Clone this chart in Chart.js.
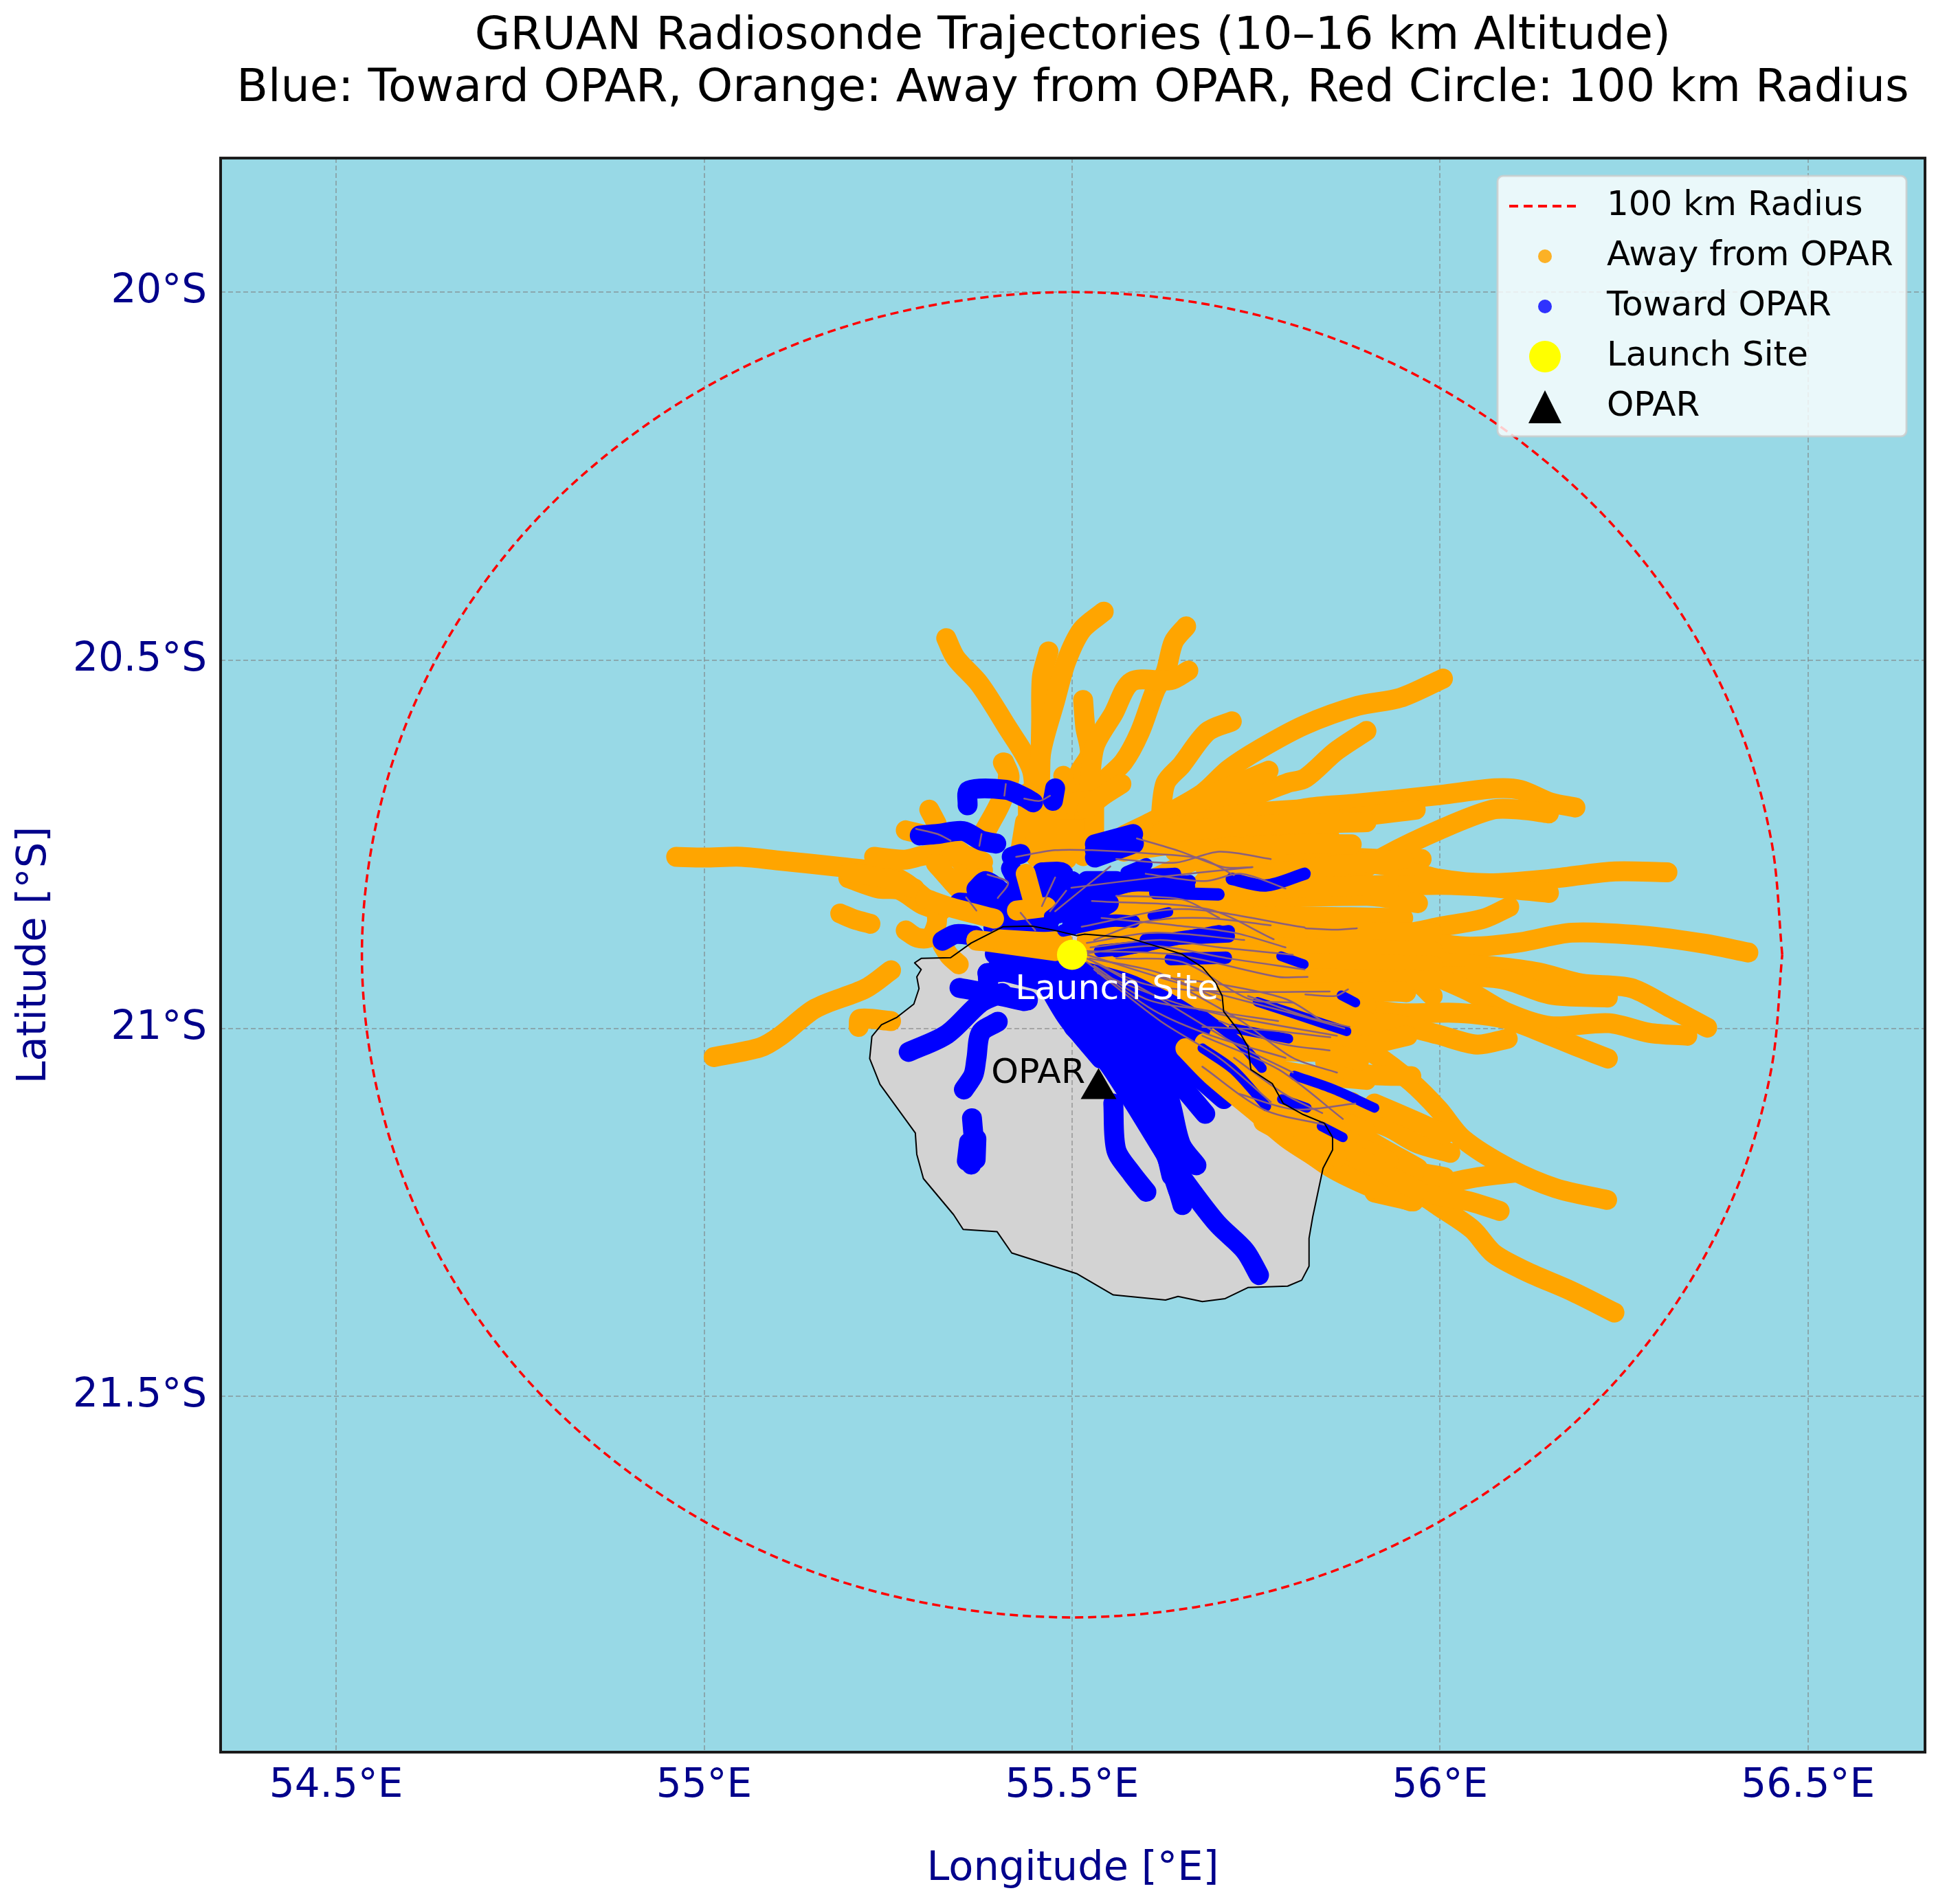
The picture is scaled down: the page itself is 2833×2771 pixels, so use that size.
<!DOCTYPE html>
<html><head><meta charset="utf-8">
<style>html,body{margin:0;padding:0;background:#fff}canvas{display:block}</style>
<script src="https://cdn.jsdelivr.net/npm/chart.js@4"></script>
</head><body><canvas id="c" width="2833" height="2771"></canvas>
<script>
const titleLines=["GRUAN Radiosonde Trajectories (10–16 km Altitude)","Blue: Toward OPAR, Orange: Away from OPAR, Red Circle: 100 km Radius"];
const lonTicks=[54.5,55,55.5,56,56.5];
const lonLabels=["54.5°E","55°E","55.5°E","56°E","56.5°E"];
const latTicks=[-20,-20.5,-21,-21.5];
const latLabels=["20°S","20.5°S","21°S","21.5°S"];
const legendLabels=["100 km Radius","Away from OPAR","Toward OPAR","Launch Site","OPAR"];
const launchSite=[55.5,-20.9];
const oparSite=[55.536,-21.082];
const launchText=[55.561,-20.948];
const oparText=[55.454,-21.062];
const circleLon=[56.465,56.450,56.407,56.336,56.239,56.120,55.983,55.830,55.668,55.5,55.332,55.170,55.017,54.880,54.761,54.664,54.593,54.550,54.535,54.550,54.593,54.664,54.761,54.880,55.017,55.170,55.332,55.5,55.668,55.830,55.983,56.120,56.239,56.336,56.407,56.450,56.465];
const circleLat=[-20.9,-20.744,-20.592,-20.450,-20.321,-20.211,-20.121,-20.054,-20.014,-20.0,-20.014,-20.054,-20.121,-20.211,-20.321,-20.450,-20.592,-20.744,-20.9,-21.056,-21.208,-21.350,-21.479,-21.589,-21.679,-21.746,-21.786,-21.8,-21.786,-21.746,-21.679,-21.589,-21.479,-21.350,-21.208,-21.056,-20.9];
const coast=[[55.286,-20.911],[55.295,-20.905],[55.335,-20.904],[55.363,-20.884],[55.406,-20.862],[55.445,-20.861],[55.477,-20.867],[55.506,-20.874],[55.517,-20.872],[55.577,-20.877],[55.613,-20.888],[55.649,-20.899],[55.677,-20.917],[55.695,-20.938],[55.704,-20.956],[55.706,-20.977],[55.727,-21.004],[55.739,-21.025],[55.743,-21.056],[55.772,-21.075],[55.787,-21.102],[55.814,-21.117],[55.843,-21.129],[55.854,-21.148],[55.854,-21.165],[55.841,-21.190],[55.827,-21.256],[55.822,-21.285],[55.822,-21.323],[55.812,-21.342],[55.793,-21.350],[55.739,-21.352],[55.708,-21.367],[55.677,-21.371],[55.644,-21.364],[55.627,-21.369],[55.556,-21.362],[55.506,-21.333],[55.418,-21.305],[55.398,-21.276],[55.352,-21.273],[55.339,-21.253],[55.298,-21.204],[55.289,-21.171],[55.287,-21.142],[55.239,-21.076],[55.225,-21.041],[55.228,-21.011],[55.241,-20.995],[55.262,-20.985],[55.285,-20.967],[55.292,-20.946],[55.289,-20.930],[55.295,-20.920],[55.286,-20.911]];
// Orange tracks below the blue ones
const awayLower=[
[[54.962,-20.767],[55.000,-20.768],[55.051,-20.767],[55.101,-20.772],[55.187,-20.781],[55.240,-20.788],[55.272,-20.801],[55.301,-20.824]],
[[55.196,-20.796],[55.237,-20.810],[55.265,-20.812],[55.297,-20.832],[55.322,-20.840]],
[[55.197,-20.788],[55.250,-20.797],[55.286,-20.810]],
[[55.231,-20.767],[55.272,-20.771],[55.301,-20.765],[55.333,-20.767],[55.365,-20.767],[55.379,-20.774]],
[[55.315,-20.776],[55.337,-20.801],[55.354,-20.819]],
[[55.340,-20.756],[55.361,-20.790],[55.379,-20.785]],
[[55.185,-20.844],[55.204,-20.852],[55.226,-20.858]],
[[55.274,-20.867],[55.290,-20.877],[55.307,-20.876],[55.316,-20.858],[55.316,-20.840]],
[[55.324,-20.887],[55.333,-20.901],[55.346,-20.913]],
[[55.013,-21.039],[55.076,-21.026],[55.104,-21.010],[55.151,-20.973],[55.219,-20.946],[55.254,-20.921]],
[[55.210,-20.998],[55.212,-20.987],[55.254,-20.990]],
[[55.306,-20.703],[55.316,-20.722]],
[[55.274,-20.731],[55.322,-20.744],[55.365,-20.772]],
[[55.408,-20.639],[55.415,-20.660],[55.400,-20.697],[55.379,-20.735]],
[[55.329,-20.470],[55.342,-20.497],[55.374,-20.532],[55.410,-20.588],[55.445,-20.648],[55.449,-20.702]],
[[55.468,-20.488],[55.459,-20.523],[55.458,-20.584],[55.456,-20.691]],
[[55.543,-20.434],[55.513,-20.459],[55.492,-20.502],[55.477,-20.555],[55.459,-20.620],[55.449,-20.700]],
[[55.515,-20.554],[55.518,-20.591],[55.524,-20.627],[55.509,-20.655],[55.502,-20.709],[55.492,-20.763]],
[[55.655,-20.454],[55.638,-20.475],[55.627,-20.516],[55.613,-20.541],[55.592,-20.598],[55.570,-20.638],[55.538,-20.670],[55.513,-20.716],[55.511,-20.763]],
[[55.658,-20.514],[55.634,-20.527],[55.581,-20.529],[55.556,-20.573],[55.531,-20.616],[55.524,-20.666],[55.517,-20.727]],
[[55.406,-20.639],[55.413,-20.654],[55.406,-20.688],[55.385,-20.729]],
[[55.488,-20.657],[55.493,-20.681]],
[[55.436,-20.720],[55.429,-20.763]],
[[55.456,-20.702],[55.451,-20.767]],
[[55.477,-20.702],[55.474,-20.777]],
[[55.495,-20.702],[55.493,-20.770]],
[[55.517,-20.709],[55.515,-20.766]],
[[55.440,-20.700],[55.530,-20.690]],
[[55.440,-20.730],[55.520,-20.730]],
[[55.440,-20.680],[55.440,-20.740]],
[[55.465,-20.680],[55.460,-20.750]],
[[55.530,-20.690],[55.530,-20.740]],
[[55.450,-20.745],[55.530,-20.745]],
[[55.567,-20.668],[55.542,-20.684],[55.520,-20.702]],
[[55.717,-20.583],[55.684,-20.597],[55.649,-20.642],[55.627,-20.667],[55.620,-20.717]],
[[56.004,-20.525],[55.946,-20.551],[55.888,-20.562],[55.816,-20.588],[55.756,-20.620],[55.713,-20.648],[55.677,-20.681],[55.613,-20.717],[55.570,-20.738]],
[[55.900,-20.596],[55.858,-20.624],[55.817,-20.660],[55.792,-20.667],[55.738,-20.688],[55.684,-20.709],[55.613,-20.738]],
[[55.767,-20.650],[55.731,-20.665],[55.692,-20.681],[55.659,-20.702]],
[[56.184,-20.700],[56.150,-20.693],[56.109,-20.676],[56.075,-20.674],[56.000,-20.683],[55.883,-20.695],[55.817,-20.701],[55.700,-20.730],[55.620,-20.750]],
[[56.148,-20.708],[56.109,-20.703],[56.071,-20.703],[56.000,-20.730],[55.925,-20.766],[55.871,-20.799],[55.817,-20.820]],
[[55.967,-20.703],[55.871,-20.716],[55.817,-20.733],[55.700,-20.750]],
[[55.975,-20.770],[55.921,-20.770],[55.830,-20.766],[55.700,-20.770]],
[[56.309,-20.788],[56.234,-20.787],[56.150,-20.797],[56.067,-20.803],[56.000,-20.797],[55.921,-20.778],[55.817,-20.770],[55.680,-20.780]],
[[56.148,-20.816],[56.067,-20.808],[56.000,-20.805],[55.921,-20.807],[55.817,-20.803],[55.680,-20.800]],
[[56.094,-20.835],[56.059,-20.851],[56.000,-20.862],[55.958,-20.870],[55.858,-20.874],[55.700,-20.860]],
[[56.419,-20.897],[56.359,-20.885],[56.276,-20.874],[56.179,-20.870],[56.109,-20.883],[56.042,-20.889],[55.996,-20.885],[55.900,-20.874],[55.700,-20.870]],
[[56.363,-20.999],[56.309,-20.970],[56.259,-20.945],[56.192,-20.939],[56.134,-20.924],[56.075,-20.916],[55.996,-20.910],[55.858,-20.895],[55.700,-20.880]],
[[56.228,-20.958],[56.150,-20.954],[56.084,-20.933],[55.996,-20.929],[55.900,-20.924],[55.700,-20.910]],
[[56.336,-21.010],[56.284,-21.006],[56.230,-20.993],[56.150,-20.997],[56.092,-20.979],[56.042,-20.951],[56.000,-20.932]],
[[56.228,-21.041],[56.192,-21.027],[56.150,-21.010],[56.088,-20.987],[56.025,-20.979],[55.942,-20.979],[55.858,-20.966],[55.700,-20.940]],
[[56.092,-21.014],[56.050,-21.022],[55.996,-21.008],[55.942,-20.995],[55.858,-20.987],[55.700,-20.960]],
[[55.990,-20.956],[55.967,-20.937],[55.900,-20.930]],
[[55.954,-20.951],[55.900,-20.945],[55.750,-20.930]],
[[55.950,-21.010],[55.912,-21.018],[55.858,-21.008],[55.720,-20.980]],
[[55.520,-20.850],[55.700,-20.800],[55.850,-20.780],[55.950,-20.770]],
[[55.500,-20.850],[55.700,-20.760],[55.850,-20.740]],
[[55.570,-20.760],[55.700,-20.740],[55.800,-20.720]],
[[55.590,-20.740],[55.720,-20.710],[55.850,-20.700]],
[[55.620,-20.735],[55.730,-20.725],[55.900,-20.720]],
[[55.640,-20.760],[55.800,-20.750],[55.880,-20.750]],
[[55.520,-20.870],[55.700,-20.830],[55.900,-20.820],[55.970,-20.830]],
[[55.540,-20.840],[55.700,-20.815],[55.930,-20.805]],
[[55.520,-20.880],[55.720,-20.850],[55.950,-20.850]],
[[55.520,-20.890],[55.750,-20.870],[55.990,-20.870]],
[[55.520,-20.900],[55.750,-20.890],[55.990,-20.895]],
[[55.520,-20.910],[55.750,-20.910],[55.990,-20.915]],
[[55.520,-20.920],[55.750,-20.930],[55.990,-20.935]],
[[55.530,-20.930],[55.750,-20.950],[55.950,-20.950]],
[[55.550,-20.940],[55.750,-20.970],[55.900,-20.970]],
[[55.580,-20.960],[55.750,-20.990],[55.900,-20.990]],
[[55.620,-20.980],[55.750,-21.010],[55.880,-21.010]],
[[55.650,-21.000],[55.780,-21.030],[55.900,-21.030]],
[[55.680,-21.030],[55.800,-21.060],[55.900,-21.070]],
[[55.720,-21.070],[55.820,-21.110],[55.900,-21.130]],
[[55.700,-21.040],[55.800,-21.090],[55.880,-21.100]],
[[56.237,-21.386],[56.177,-21.356],[56.119,-21.331],[56.073,-21.306],[56.044,-21.273],[56.002,-21.244],[55.969,-21.223],[55.886,-21.190],[55.802,-21.144]],
[[56.227,-21.233],[56.157,-21.217],[56.094,-21.190],[56.031,-21.150],[55.998,-21.110],[55.961,-21.073],[55.911,-21.035],[55.865,-21.010]],
[[56.081,-21.248],[56.040,-21.235],[55.998,-21.227],[55.948,-21.217],[55.902,-21.206],[55.844,-21.173],[55.760,-21.127]],
[[56.102,-21.196],[56.052,-21.202],[56.011,-21.210]],
[[55.964,-21.235],[55.911,-21.223]],
[[56.014,-21.169],[55.969,-21.156],[55.931,-21.135],[55.886,-21.119]],
[[56.006,-21.144],[55.969,-21.127],[55.911,-21.102]],
[[55.890,-21.139],[55.915,-21.169],[55.948,-21.190],[56.006,-21.202]],
[[55.961,-21.065],[55.898,-21.062],[55.844,-21.046]],
[[55.890,-21.044],[55.840,-21.030]],
[[55.956,-21.010],[55.911,-21.021]],
[[55.880,-21.120],[55.830,-21.090]],
[[55.740,-21.030],[55.830,-21.100],[55.900,-21.150],[55.970,-21.190]],
[[55.900,-21.140],[55.850,-21.120],[55.800,-21.100]],
[[55.930,-21.180],[55.870,-21.150],[55.820,-21.120]],
[[55.780,-21.060],[55.850,-21.090],[55.900,-21.110]]
];
// Blue tracks
const towardMain=[
[[55.754,-21.335],[55.735,-21.302],[55.698,-21.266],[55.665,-21.224],[55.627,-21.171],[55.606,-21.132],[55.573,-21.083],[55.544,-21.041],[55.502,-20.998]],
[[55.650,-21.240],[55.640,-21.204],[55.631,-21.158],[55.623,-21.106],[55.606,-21.057],[55.564,-21.008]],
[[55.644,-21.220],[55.627,-21.171],[55.619,-21.158],[55.589,-21.109],[55.560,-21.063]],
[[55.669,-21.186],[55.648,-21.158],[55.635,-21.106],[55.619,-21.050]],
[[55.681,-21.116],[55.644,-21.073],[55.610,-21.041],[55.577,-21.008]],
[[55.601,-21.222],[55.581,-21.197],[55.560,-21.165],[55.556,-21.102]],
[[55.706,-21.096],[55.669,-21.063],[55.627,-21.021],[55.577,-20.988]],
[[55.470,-20.930],[55.520,-21.000],[55.560,-21.060]],
[[55.490,-20.925],[55.540,-21.000],[55.580,-21.060]],
[[55.510,-20.925],[55.560,-21.000],[55.600,-21.070]],
[[55.530,-20.930],[55.580,-21.000],[55.620,-21.070]],
[[55.550,-20.935],[55.600,-21.000],[55.630,-21.070]],
[[55.570,-20.940],[55.620,-21.000],[55.650,-21.060]],
[[55.590,-20.950],[55.640,-21.000],[55.670,-21.060]],
[[55.610,-20.960],[55.660,-21.000],[55.690,-21.060]],
[[55.590,-21.070],[55.620,-21.140],[55.635,-21.200]],
[[55.600,-21.080],[55.630,-21.130]],
[[55.420,-20.915],[55.520,-20.925],[55.620,-20.960],[55.700,-21.010]],
[[55.400,-20.905],[55.500,-20.915]],
[[55.460,-20.929],[55.493,-20.985],[55.539,-21.041]],
[[55.397,-20.920],[55.606,-20.972]],
[[55.443,-20.913],[55.560,-20.950],[55.650,-20.990]],
[[55.480,-20.915],[55.590,-20.945],[55.680,-21.010]],
[[55.278,-21.032],[55.330,-21.008],[55.376,-20.965],[55.405,-20.952]],
[[55.347,-20.945],[55.385,-20.952],[55.435,-20.963]],
[[55.385,-20.925],[55.440,-20.920]],
[[55.385,-20.925],[55.390,-20.950],[55.440,-20.962]],
[[55.399,-20.991],[55.376,-21.006],[55.370,-21.041],[55.366,-21.063],[55.353,-21.083]],
[[55.364,-21.122],[55.366,-21.145]],
[[55.360,-21.155],[55.357,-21.180]],
[[55.370,-21.150],[55.369,-21.178]],
[[55.365,-21.165],[55.363,-21.185]],
[[55.358,-20.697],[55.360,-20.677],[55.410,-20.676],[55.435,-20.686],[55.447,-20.693]],
[[55.477,-20.674],[55.474,-20.691]],
[[55.293,-20.738],[55.317,-20.736],[55.352,-20.732],[55.377,-20.745],[55.397,-20.749]],
[[55.418,-20.767],[55.430,-20.763]],
[[55.370,-20.811],[55.383,-20.800],[55.405,-20.815]],
[[55.347,-20.829],[55.417,-20.834]],
[[55.375,-20.815],[55.420,-20.825]],
[[55.350,-20.830],[55.430,-20.845]],
[[55.417,-20.783],[55.427,-20.802]],
[[55.324,-20.881],[55.342,-20.872],[55.367,-20.874]],
[[55.393,-20.863],[55.431,-20.867],[55.470,-20.868]],
[[55.395,-20.899],[55.435,-20.913],[55.506,-20.927]],
[[55.459,-20.788],[55.488,-20.790],[55.477,-20.834],[55.467,-20.859]],
[[55.460,-20.790],[55.460,-20.850]],
[[55.475,-20.790],[55.480,-20.830]],
[[55.490,-20.795],[55.485,-20.840]],
[[55.445,-20.800],[55.450,-20.850]],
[[55.440,-20.810],[55.500,-20.830]],
[[55.430,-20.830],[55.520,-20.840]],
[[55.460,-20.850],[55.530,-20.830]],
[[55.500,-20.800],[55.470,-20.850]],
[[55.500,-20.860],[55.550,-20.830]],
[[55.520,-20.800],[55.560,-20.800]],
[[55.531,-20.750],[55.583,-20.736]],
[[55.531,-20.768],[55.584,-20.749]],
[[55.531,-20.758],[55.575,-20.745]]
];
// Orange tracks above the main blue ones
const awayUpper=[
[[55.301,-20.824],[55.333,-20.835],[55.394,-20.851]],
[[55.370,-20.881],[55.430,-20.884],[55.487,-20.881]],
[[55.370,-20.880],[55.427,-20.888],[55.477,-20.895]],
[[55.399,-20.879],[55.484,-20.884]],
[[55.437,-20.790],[55.448,-20.830]],
[[55.425,-20.840],[55.465,-20.835]],
[[55.654,-21.027],[55.689,-21.063],[55.748,-21.112],[55.794,-21.151],[55.856,-21.190]],
[[55.660,-21.030],[55.760,-21.120],[55.845,-21.185],[55.900,-21.213],[55.960,-21.235]],
[[55.700,-21.010],[55.790,-21.100],[55.870,-21.160],[55.930,-21.200],[55.970,-21.220]],
[[55.680,-21.020],[55.775,-21.110],[55.860,-21.175]]
];
// Wider blue streaks near the launch site
const towardStreaks=[
[[55.470,-20.848],[55.527,-20.809],[55.613,-20.793],[55.645,-20.802]],
[[55.500,-20.840],[55.560,-20.810],[55.660,-20.800]],
[[55.490,-20.830],[55.580,-20.795],[55.640,-20.790]],
[[55.530,-20.820],[55.600,-20.800]],
[[55.574,-20.788],[55.601,-20.777]],
[[55.613,-20.816],[55.699,-20.818]],
[[55.560,-20.805],[55.659,-20.807]],
[[55.717,-20.797],[55.763,-20.806],[55.816,-20.790]],
[[55.488,-20.867],[55.552,-20.854],[55.584,-20.855]],
[[55.538,-20.895],[55.599,-20.888],[55.631,-20.879],[55.713,-20.868]],
[[55.560,-20.895],[55.660,-20.875],[55.700,-20.868]],
[[55.600,-20.880],[55.713,-20.875]],
[[55.634,-20.906],[55.709,-20.904]]
];
// Narrow blue patches further out
const towardPatches=[
[[55.609,-20.847],[55.631,-20.842]],
[[55.784,-20.902],[55.815,-20.913]],
[[55.752,-20.964],[55.798,-20.979],[55.873,-21.004]],
[[55.719,-21.000],[55.794,-21.014]],
[[55.677,-20.981],[55.727,-21.019],[55.758,-21.054]],
[[55.677,-21.027],[55.719,-21.056],[55.764,-21.106]],
[[55.802,-21.064],[55.856,-21.083],[55.911,-21.108]],
[[55.785,-21.096],[55.819,-21.108]],
[[55.839,-21.133],[55.868,-21.148]],
[[55.866,-20.955],[55.885,-20.965]]
];
const thinTracks=[
[[55.424,-20.767],[55.477,-20.758],[55.527,-20.758],[55.613,-20.763],[55.677,-20.770],[55.720,-20.792]],
[[55.588,-20.742],[55.645,-20.759],[55.706,-20.781],[55.745,-20.781]],
[[55.520,-20.898],[55.613,-20.888],[55.713,-20.905],[55.816,-20.920]],
[[55.513,-20.862],[55.649,-20.838],[55.816,-20.863]],
[[55.477,-20.841],[55.552,-20.780]],
[[55.499,-20.809],[55.613,-20.795],[55.745,-20.781]],
[[55.527,-20.827],[55.684,-20.838],[55.774,-20.879]],
[[55.520,-20.884],[55.613,-20.870],[55.734,-20.880]],
[[55.524,-20.905],[55.613,-20.923],[55.702,-20.962]],
[[55.677,-20.998],[55.760,-21.002],[55.851,-21.012]],
[[55.677,-21.010],[55.781,-21.056],[55.868,-21.123]],
[[55.727,-21.089],[55.802,-21.110],[55.885,-21.102]],
[[55.677,-21.052],[55.760,-21.110],[55.843,-21.131]],
[[55.739,-20.956],[55.822,-20.985],[55.877,-20.998]],
[[55.520,-20.900],[55.650,-20.940],[55.800,-20.980],[55.870,-21.000]],
[[55.530,-20.910],[55.620,-20.960],[55.720,-21.020],[55.800,-21.060]],
[[55.520,-20.905],[55.600,-20.940],[55.700,-20.950],[55.850,-20.950]],
[[55.530,-20.920],[55.620,-20.990],[55.700,-21.040],[55.770,-21.100]],
[[55.520,-20.895],[55.640,-20.900],[55.780,-20.930],[55.820,-20.930]],
[[55.817,-20.864],[55.858,-20.866],[55.887,-20.864]],
[[55.817,-20.954],[55.858,-20.956],[55.875,-20.947]],
[[55.385,-20.791],[55.413,-20.802],[55.399,-20.823]],
[[55.356,-20.822],[55.370,-20.840]],
[[55.377,-20.736],[55.374,-20.752]],
[[55.410,-20.668],[55.408,-20.684]],
[[55.435,-20.688],[55.456,-20.691],[55.470,-20.684]],
[[55.288,-20.729],[55.317,-20.736],[55.335,-20.745]],
[[55.477,-20.795],[55.459,-20.834]],
[[55.470,-20.841],[55.492,-20.813]],
[[55.430,-20.843],[55.450,-20.867]],
[[55.560,-20.905],[55.650,-20.910],[55.740,-20.960],[55.800,-20.965]],
[[55.540,-20.850],[55.640,-20.860],[55.720,-20.870],[55.790,-20.890]],
[[55.560,-20.820],[55.650,-20.825],[55.700,-20.850]],
[[55.530,-20.880],[55.600,-20.855],[55.680,-20.850],[55.770,-20.860]],
[[55.525,-20.890],[55.620,-20.880],[55.700,-20.890],[55.800,-20.900]],
[[55.530,-20.915],[55.600,-20.960],[55.680,-20.975],[55.780,-20.990]],
[[55.535,-20.925],[55.640,-20.965],[55.720,-20.985],[55.860,-21.010]],
[[55.520,-20.910],[55.610,-20.975],[55.690,-21.010],[55.790,-21.040]],
[[55.600,-20.790],[55.680,-20.800],[55.730,-20.790],[55.790,-20.810]],
[[55.560,-20.770],[55.640,-20.775],[55.700,-20.760],[55.770,-20.770]],
[[55.700,-20.990],[55.780,-21.020],[55.850,-21.030]],
[[55.720,-21.040],[55.790,-21.090],[55.840,-21.115]],
[[55.660,-20.950],[55.730,-20.990],[55.800,-21.040],[55.860,-21.060]],
[[55.620,-20.930],[55.700,-20.940],[55.790,-20.960],[55.840,-20.990]]
];
const ORANGE="#FFA500",BLUE="#0000FF",THIN="#8A5F7E",WATER="#98D9E6",LAND="#D3D3D3",NAVY="#00008B";
const FONT="'DejaVu Sans'";
function handle(draw,w,h){const c=document.createElement('canvas');c.width=w;c.height=h;draw(c.getContext('2d'),w,h);return c;}
const handles=[
 handle((g,w,h)=>{g.strokeStyle="#FF0000";g.lineWidth=4;g.setLineDash([13,8]);g.beginPath();g.moveTo(0,h/2);g.lineTo(w,h/2);g.stroke();},104,6),
 handle((g,w,h)=>{g.fillStyle="rgba(255,165,0,.85)";g.beginPath();g.arc(w/2,h/2,10,0,7);g.fill();},24,24),
 handle((g,w,h)=>{g.fillStyle="rgba(0,0,255,.8)";g.beginPath();g.arc(w/2,h/2,10,0,7);g.fill();},24,24),
 handle((g,w,h)=>{g.fillStyle="#FFFF00";g.beginPath();g.arc(w/2,h/2,23,0,7);g.fill();},48,48),
 handle((g,w,h)=>{g.fillStyle="#000";g.beginPath();g.moveTo(w/2,0);g.lineTo(w,h);g.lineTo(0,h);g.closePath();g.fill();},48,48)
];
const toXY=t=>t.map(p=>({x:p[0],y:p[1]}));
const line=(t,color,w,extra)=>Object.assign({type:'scatter',showLine:true,data:toXY(t),borderColor:color,borderWidth:w,backgroundColor:color,pointRadius:0,pointHoverRadius:0,borderCapStyle:'round',borderJoinStyle:'round',tension:0.3,fill:false},extra||{});
const painted=[];
painted.push(line(coast,LAND,0,{tension:0,fill:'shape',backgroundColor:LAND,borderColor:LAND,borderWidth:1}));
awayLower.forEach(t=>painted.push(line(t,ORANGE,29)));
towardMain.forEach(t=>painted.push(line(t,BLUE,29)));
awayUpper.forEach(t=>painted.push(line(t,ORANGE,29)));
towardStreaks.forEach(t=>painted.push(line(t,BLUE,18)));
towardPatches.forEach(t=>painted.push(line(t,BLUE,14)));
thinTracks.forEach(t=>painted.push(line(t,THIN,2.5)));
painted.push(line(circleLon.map((v,i)=>[v,circleLat[i]]),"#FF0000",3.5,{tension:0.335,borderDash:[12,7],borderCapStyle:'butt'}));
painted.push(line(coast,"#000000",2,{tension:0}));
painted.push({type:'scatter',data:[{x:launchSite[0],y:launchSite[1]}],pointRadius:22,pointHoverRadius:22,backgroundColor:"#FFFF00",borderColor:"#FFFF00",pointBorderWidth:0});
painted.push({type:'scatter',data:[{x:oparSite[0],y:oparSite[1]}],pointStyle:'triangle',pointRadius:30,pointHoverRadius:30,backgroundColor:"#000",borderColor:"#000",pointBorderWidth:0});
painted.forEach((d,i)=>{d.order=painted.length-i;});

const mapPlugin={
 id:'mapLayers',
 beforeLayout(chart){
  const L=chart.legend;
  L._layers=()=>[{z:50,draw(){
   const g=chart.ctx;
   g.save();g.beginPath();g.roundRect(2179,256,595,379,8);g.fillStyle="rgba(255,255,255,.8)";g.fill();g.lineWidth=3;g.strokeStyle="rgba(204,204,204,.8)";g.stroke();g.restore();
   L.left=2160;L.top=252;L.right=2790;L.bottom=700;
   L.draw();
  }}];
 },
 beforeDraw(chart){
  const g=chart.ctx,a=chart.chartArea;
  g.save();g.fillStyle="#fff";g.fillRect(0,0,chart.width,chart.height);g.fillStyle=WATER;g.fillRect(a.left,a.top,a.right-a.left,a.bottom-a.top);g.restore();
  [chart.scales.x,chart.scales.y].forEach(s=>{if(!s._gridReal){s._gridReal=s.drawGrid;s.drawGrid=function(){};}});
 },
 afterDatasetDraw(chart,args){
  if(args.index===0){[chart.scales.x,chart.scales.y].forEach(s=>s._gridReal.call(s,chart.chartArea));}
 },
 afterDatasetsDraw(chart){
  const g=chart.ctx,a=chart.chartArea,x=chart.scales.x,y=chart.scales.y;
  g.save();g.textAlign='center';g.textBaseline='middle';
  g.font="50.5px "+FONT;g.fillStyle="#fff";g.fillText("Launch Site",x.getPixelForValue(launchText[0]),y.getPixelForValue(launchText[1]));
  g.font="50.5px "+FONT;g.fillStyle="#000";g.fillText("OPAR",x.getPixelForValue(oparText[0]),y.getPixelForValue(oparText[1]));
  g.strokeStyle="#1a1a1a";g.lineWidth=4;g.strokeRect(a.left,a.top,a.right-a.left,a.bottom-a.top);
  g.restore();
 }
};
new Chart(document.getElementById('c'),{
 type:'scatter',
 data:{datasets:painted},
 plugins:[mapPlugin],
 options:{
  responsive:false,animation:false,devicePixelRatio:1,
  events:[],
  layout:{padding:{left:0,right:32,top:0,bottom:0}},
  plugins:{
   tooltip:{enabled:false},
   title:{display:true,fullSize:false,text:titleLines,color:"#000",font:{family:FONT,size:66.7,weight:'normal',lineHeight:1.14},padding:{top:16,bottom:62}},
   legend:{display:true,position:'chartArea',align:'start',labels:{
     font:{family:FONT,size:50},color:"#000",usePointStyle:true,pointStyleWidth:130,padding:23,
     generateLabels:()=>legendLabels.map((t,i)=>({text:t,pointStyle:handles[i],fillStyle:"#000",strokeStyle:"#000",lineWidth:0,hidden:false}))
   }}
  },
  scales:{
   x:{type:'linear',min:54.343,max:56.659,
    afterFit:s=>{s.height=221;},
    afterBuildTicks:s=>{s.ticks=lonTicks.map(v=>({value:v}));},
    grid:{color:"rgba(128,128,128,.55)",lineWidth:2,drawTicks:false},
    border:{display:false,dash:[7,4]},
    ticks:{color:NAVY,font:{family:FONT,size:58},padding:15,maxRotation:0,autoSkip:false,callback:(v,i)=>lonLabels[i]},
    title:{display:true,text:"Longitude [°E]",color:NAVY,font:{family:FONT,size:59},padding:{top:0,bottom:15}}
   },
   y:{type:'linear',min:-21.983,max:-19.818,
    afterFit:s=>{s.width=321;},
    afterBuildTicks:s=>{s.ticks=latTicks.map(v=>({value:v}));},
    grid:{color:"rgba(128,128,128,.55)",lineWidth:2,drawTicks:false},
    border:{display:false,dash:[7,4]},
    ticks:{color:NAVY,font:{family:FONT,size:58},padding:20,autoSkip:false,callback:(v,i)=>latLabels[i]},
    title:{display:true,text:"Latitude [°S]",color:NAVY,font:{family:FONT,size:59},padding:{top:15,bottom:0}}
   }
  }
 }
});
</script></body></html>
